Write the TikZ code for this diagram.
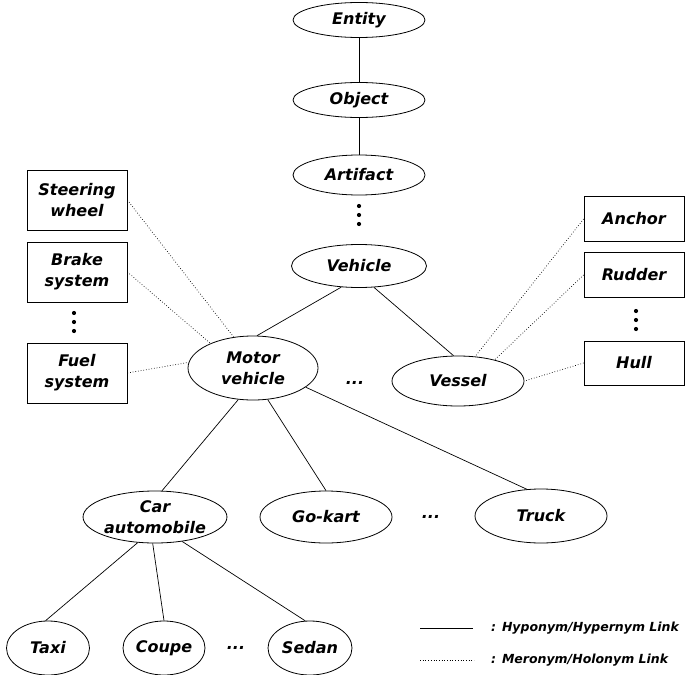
\documentclass[tikz,border=0pt]{standalone}
\usepackage{fontspec}
\setmainfont{DejaVu Sans}
\usetikzlibrary{shapes.geometric}
\tikzset{
  lbl/.style={font=\fontsize{16}{21}\selectfont\bfseries\itshape, align=center, inner sep=0pt},
  ell/.style={lbl, draw, ellipse, line width=0.8pt, minimum width=132pt, minimum height=#1},
  ell/.default=50pt,
  box/.style={lbl, draw, rectangle, line width=0.8pt, minimum width=100pt, minimum height=#1},
  box/.default=60pt,
  hyp/.style={line width=0.7pt},
  mer/.style={line width=0.7pt, dotted},
  hdots/.style={lbl},
  dotmark/.style={fill=black}
}
\newcommand{\vdotsat}[1]{%
  \fill[dotmark] ([yshift=9pt]#1) circle (2.1pt);
  \fill[dotmark] (#1) circle (2.1pt);
  \fill[dotmark] ([yshift=-9pt]#1) circle (2.1pt);}
\begin{document}
\begin{tikzpicture}[x=1pt,y=-1pt]
\useasboundingbox (0,0) rectangle (690,674);
% hierarchy
\node[ell=35pt] (entity) at (359,20) {Entity};
\node[ell=35pt] (object) at (359,100) {Object};
\node[ell=40pt] (artifact) at (359,175) {Artifact};
\coordinate (d1) at (359,215);
\node[ell=43pt, minimum width=135pt] (vehicle) at (359,266) {Vehicle};
\node[ell=64pt, minimum width=130pt] (motor) at (253,368) {Motor\\vehicle};
\node[hdots] (d2) at (355,383) {...};
\node[ell=50pt] (vessel) at (458,381) {Vessel};
\node[ell=52pt] (car) at (155,517) {Car\\automobile};
\node[ell=52pt] (gokart) at (326,517) {Go-kart};
\node[hdots] (d3) at (431,517) {...};
\node[ell=54pt] (truck) at (541,516) {Truck};
\node[ell=54pt, minimum width=83pt] (taxi) at (48,648) {Taxi};
\node[ell=54pt, minimum width=82pt] (coupe) at (164,648) {Coupe};
\node[hdots] (d4) at (236,648) {...};
\node[ell=54pt, minimum width=84pt] (sedan) at (310,648) {Sedan};
% parts
\node[box] (steer) at (77,200) {Steering\\wheel};
\node[box] (brake) at (77,272) {Brake\\system};
\coordinate (d5) at (74,322);
\node[box] (fuel) at (77,373) {Fuel\\system};
\node[box=45pt] (anchor) at (634,219) {Anchor};
\node[box=45pt] (rudder) at (634,275) {Rudder};
\coordinate (d6) at (636,320);
\node[box=44pt] (hull) at (634,363) {Hull};
% vertical ellipses
\vdotsat{d1}
\vdotsat{d5}
\vdotsat{d6}
% hyponym links
\draw[hyp] (entity) -- (object);
\draw[hyp] (object) -- (artifact);
\draw[hyp] (vehicle.230) -- (motor.83);
\draw[hyp] (vehicle.305) -- (vessel.100);
\draw[hyp] (motor.245) -- (car.75);
\draw[hyp] (motor.295) -- (gokart.90);
\draw[hyp] (motor.340) -- (truck.118);
\draw[hyp] (car.236) -- (taxi.95);
\draw[hyp] (car.265) -- (coupe.90);
\draw[hyp] (car.318) -- (sedan.100);
% meronym links
\draw[mer] (steer.east) -- (motor.122);
\draw[mer] (brake.east) -- (motor.150);
\draw[mer] (fuel.east) -- (motor.175);
\draw[mer] (anchor.west) -- (vessel.55);
\draw[mer] (rudder.west) -- (vessel.30);
\draw[mer] (hull.west) -- (vessel.0);
% legend
\coordinate (l1a) at (420,628);
\coordinate (l1b) at (473,628);
\coordinate (l2a) at (420,660);
\coordinate (l2b) at (474,660);
\draw[hyp] (l1a) -- (l1b);
\draw[mer] (l2a) -- (l2b);
\node[lbl, font=\fontsize{12.5}{14}\selectfont\bfseries\itshape, anchor=west] (t1) at (491,628) {: Hyponym/Hypernym Link};
\node[lbl, font=\fontsize{12.5}{14}\selectfont\bfseries\itshape, anchor=west] (t2) at (491,660) {: Meronym/Holonym Link};
\end{tikzpicture}
\end{document}
